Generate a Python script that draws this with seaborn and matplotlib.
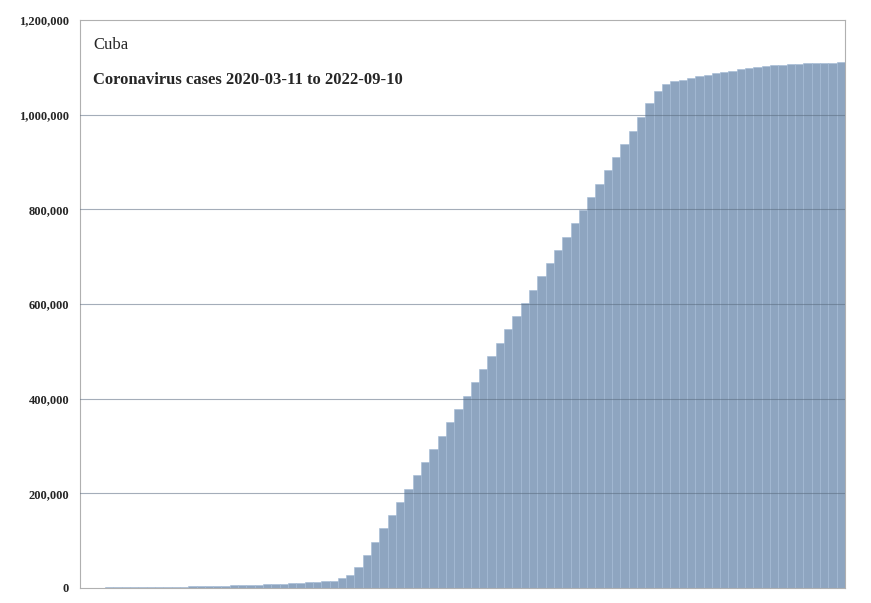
import matplotlib.pyplot as plt
import matplotlib.ticker as mticker
import seaborn as sns
import pandas as pd

# cumulative cases (thousands), sampled every 10 days from 2020-03-11
days = list(range(0, 920, 10))
cases_k = [0, 0.2, 0.5, 1, 1.4, 1.7, 1.9, 2.0, 2.1, 2.2, 2.3, 2.5, 2.8, 3.2, 3.6, 4.0,
           4.5, 5.0, 5.5, 6.0, 6.6, 7.2, 7.8, 8.5, 9.2, 10, 11, 12, 13, 14, 15,
           20, 28, 45, 70, 98, 126, 154, 182, 210, 238, 266, 294, 322, 350, 378,
           406, 434, 462, 490, 518, 546, 574, 602, 630, 658, 686, 714, 742, 770,
           798, 826, 854, 882, 910, 938, 966, 994, 1025, 1050, 1065, 1070, 1074,
           1078, 1081, 1084, 1087, 1090, 1093, 1096, 1099, 1101, 1103, 1104, 1105,
           1106, 1107, 1108, 1109, 1109, 1110, 1111]
yticks = [0, 200000, 400000, 600000, 800000, 1000000, 1200000]

df = pd.DataFrame({"day": days, "cases": [c * 1000 for c in cases_k]})

sns.set_style("white")
plt.rcParams["font.family"] = ["Liberation Serif", "DejaVu Serif"]
fig = plt.figure(figsize=(8.71, 6.03), dpi=100)
ax = fig.add_axes([0.092, 0.025, 0.878, 0.942])
sns.barplot(data=df, x="day", y="cases", color="#86a4c8", width=1.0,
            edgecolor="#a3bad6", linewidth=0.4, ax=ax, zorder=2)
ax.set_ylim(0, 1200000)
ax.set_yticks(yticks)
ax.yaxis.set_major_formatter(mticker.StrMethodFormatter("{x:,.0f}"))
for y in yticks[1:-1]:
    ax.axhline(y, color="#5a6b80", linewidth=0.8, alpha=0.55, zorder=3)
ax.set_xticks([])
ax.set_xlabel("")
ax.set_ylabel("")
for lbl in ax.get_yticklabels():
    lbl.set_fontweight("bold")
    lbl.set_fontsize(9)
for s in ax.spines.values():
    s.set_color("#b0b0b0")
ax.tick_params(axis="y", length=0, pad=8)
ax.text(0.017, 0.956, "Cuba", transform=ax.transAxes, fontsize=12, va="center")
ax.text(0.017, 0.894, "Coronavirus cases 2020-03-11 to 2022-09-10",
        transform=ax.transAxes, fontsize=12, fontweight="bold", va="center")
fig.savefig("out.png", dpi=100)
